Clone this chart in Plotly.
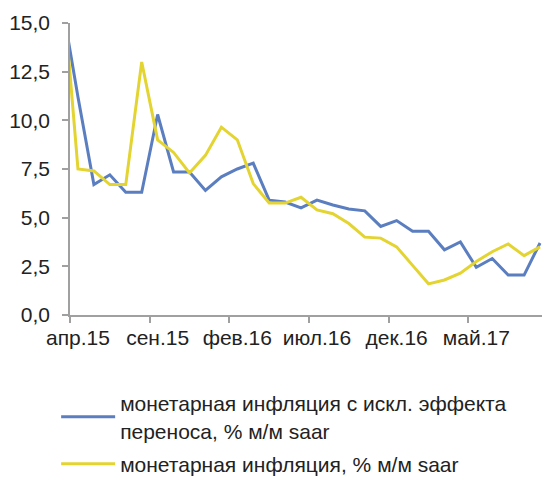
import plotly.graph_objects as go

# monthly data, mar.15 .. sep.17 (first point lies left of the visible axis range)
months = ["мар.15", "апр.15", "май.15", "июн.15", "июл.15", "авг.15", "сен.15", "окт.15", "ноя.15", "дек.15",
          "янв.16", "фев.16", "мар.16", "апр.16", "май.16", "июн.16", "июл.16", "авг.16", "сен.16", "окт.16",
          "ноя.16", "дек.16", "янв.17", "фев.17", "мар.17", "апр.17", "май.17", "июн.17", "июл.17", "авг.17",
          "сен.17"]

core_infl = [16.0, 11.2, 6.7, 7.2, 6.3, 6.3, 10.3, 7.35, 7.35, 6.4,
             7.1, 7.5, 7.8, 5.9, 5.8, 5.5, 5.9, 5.65, 5.45, 5.35,
             4.55, 4.85, 4.3, 4.3, 3.35, 3.75, 2.45, 2.9, 2.05, 2.05,
             3.7]

mon_infl = [17.3, 7.5, 7.4, 6.7, 6.7, 13.0, 9.0, 8.35, 7.3, 8.2,
            9.65, 9.0, 6.75, 5.75, 5.75, 6.05, 5.4, 5.2, 4.7, 4.0,
            3.95, 3.5, 2.55, 1.6, 1.8, 2.15, 2.75, 3.25, 3.65, 3.05,
            3.5]

tick_labels = ["апр.15", "сен.15", "фев.16", "июл.16", "дек.16", "май.17"]

name_core = "монетарная инфляция с искл. эффекта<br>переноса, % м/м saar"
name_mon = "монетарная инфляция, % м/м saar"

x_idx = list(range(-1, len(months) - 1))
tick_pos = [x_idx[months.index(t)] for t in tick_labels]

fig = go.Figure()
fig.add_trace(go.Scatter(x=x_idx, y=core_infl, mode="lines", name=name_core,
                         legendgroup="a",
                         line=dict(color="#5B7EC0", width=3)))
fig.add_trace(go.Scatter(x=x_idx, y=mon_infl, mode="lines", name=name_mon,
                         legendgroup="b",
                         line=dict(color="#E3D431", width=3)))

font_family = "Liberation Sans, Arial, sans-serif"
axis_col = "#A0A0A0"

fig.update_layout(
    width=542, height=472,
    margin=dict(l=62, r=2, t=15, b=165, autoexpand=False),
    paper_bgcolor="white", plot_bgcolor="white",
    separators=", ",
    font=dict(family=font_family, size=21, color="#222222"),
    showlegend=True,
    legend=dict(
        x=-0.029, y=-0.233, xanchor="left", yanchor="top",
        orientation="v",
        font=dict(family=font_family, size=21, color="#222222"),
        tracegroupgap=3,
        itemwidth=54,
        bgcolor="rgba(0,0,0,0)",
    ),
    xaxis=dict(
        range=[-0.5, 29.5],
        showgrid=False, zeroline=False,
        showline=True, linecolor=axis_col, linewidth=1.5,
        tickmode="array", tickvals=tick_pos, ticktext=tick_labels,
        ticks="", ticklabelstandoff=3,
        minor=dict(tick0=-0.5, dtick=5, ticks="outside", ticklen=6,
                   tickcolor=axis_col, tickwidth=1.5, showgrid=False),
        tickfont=dict(size=21),
    ),
    yaxis=dict(
        range=[0, 15], dtick=2.5, tickformat=".1f",
        showgrid=False, zeroline=False,
        showline=True, linecolor=axis_col, linewidth=1.5,
        ticks="outside", ticklen=6, tickcolor=axis_col, tickwidth=1.5,
        ticklabelstandoff=8,
        tickfont=dict(size=21),
    ),
)

fig.write_html("out.html")
